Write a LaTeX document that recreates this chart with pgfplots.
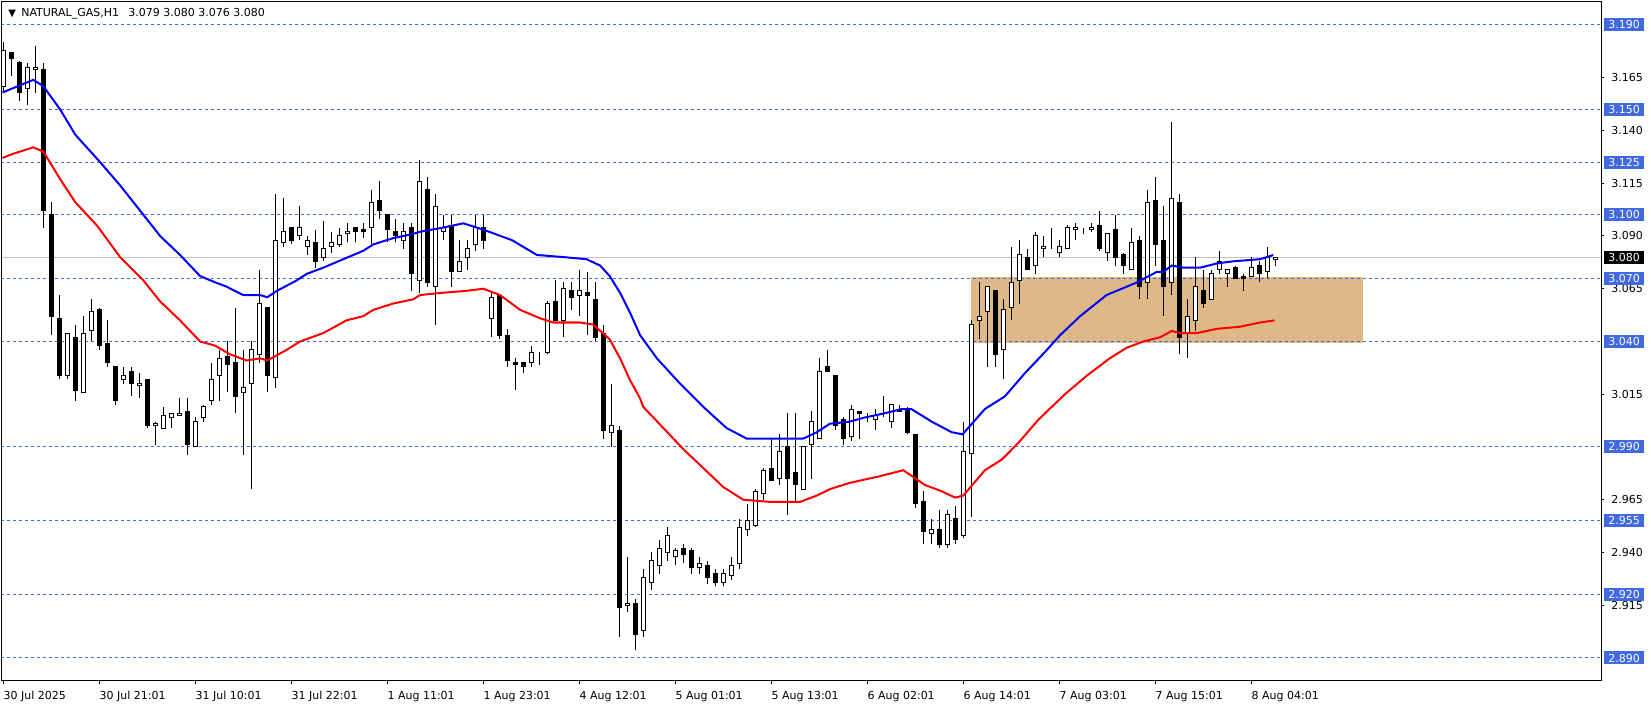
\documentclass[border=0pt]{standalone}
\usepackage{fontspec}
\setmainfont{DejaVu Sans}
\usepackage{pgfplots}
\usepackage{pgfplotstable}
\pgfplotsset{compat=1.18}
\definecolor{lvl}{RGB}{65,105,225}
\definecolor{zone}{RGB}{222,184,135}
\definecolor{bid}{RGB}{192,192,192}

% hourly candles: bar index, open, high, low, close
\pgfplotstableread{
i o h l c
0 3.161 3.182 3.158 3.178
1 3.177 3.177 3.166 3.174
2 3.172 3.173 3.154 3.158
3 3.160 3.172 3.152 3.170
4 3.169 3.180 3.158 3.170
5 3.169 3.172 3.094 3.102
6 3.100 3.106 3.043 3.052
7 3.051 3.062 3.022 3.024
8 3.024 3.044 3.022 3.044
9 3.042 3.048 3.012 3.017
10 3.016 3.052 3.016 3.044
11 3.045 3.060 3.040 3.054
12 3.055 3.056 3.036 3.038
13 3.039 3.050 3.028 3.030
14 3.028 3.028 3.010 3.012
15 3.022 3.028 3.020 3.024
16 3.026 3.028 3.014 3.020
17 3.019 3.025 3.013 3.020
18 3.022 3.022 2.999 3.000
19 3.000 3.002 2.991 3.001
20 2.999 3.009 2.999 3.005
21 3.004 3.006 2.999 3.006
22 3.005 3.013 3.005 3.006
23 3.007 3.013 2.986 2.991
24 2.990 3.004 2.990 3.002
25 3.004 3.010 3.002 3.009
26 3.012 3.030 3.010 3.022
27 3.024 3.036 3.012 3.032
28 3.033 3.040 3.016 3.029
29 3.030 3.056 3.006 3.014
30 3.016 3.036 2.986 3.018
31 3.020 3.040 2.970 3.036
32 3.034 3.074 3.030 3.058
33 3.056 3.056 3.016 3.024
34 3.023 3.110 3.018 3.088
35 3.087 3.108 3.085 3.092
36 3.094 3.094 3.086 3.088
37 3.090 3.104 3.088 3.094
38 3.085 3.090 3.081 3.088
39 3.087 3.093 3.075 3.078
40 3.080 3.097 3.078 3.084
41 3.085 3.092 3.082 3.087
42 3.086 3.094 3.085 3.090
43 3.091 3.096 3.087 3.092
44 3.094 3.094 3.087 3.092
45 3.093 3.096 3.089 3.092
46 3.094 3.112 3.086 3.106
47 3.107 3.116 3.098 3.102
48 3.100 3.100 3.087 3.093
49 3.092 3.098 3.087 3.090
50 3.088 3.096 3.084 3.092
51 3.094 3.096 3.064 3.072
52 3.069 3.126 3.063 3.116
53 3.112 3.118 3.066 3.068
54 3.066 3.110 3.048 3.104
55 3.092 3.100 3.088 3.094
56 3.095 3.100 3.066 3.073
57 3.073 3.088 3.073 3.078
58 3.080 3.088 3.074 3.084
59 3.086 3.100 3.083 3.094
60 3.094 3.100 3.084 3.088
61 3.051 3.063 3.042 3.061
62 3.062 3.062 3.041 3.043
63 3.043 3.046 3.028 3.031
64 3.030 3.032 3.017 3.029
65 3.030 3.030 3.025 3.028
66 3.030 3.038 3.028 3.035
67 3.034 3.035 3.029 3.034
68 3.035 3.059 3.034 3.058
69 3.059 3.069 3.050 3.050
70 3.050 3.068 3.042 3.065
71 3.064 3.068 3.055 3.061
72 3.062 3.074 3.052 3.064
73 3.063 3.073 3.043 3.062
74 3.060 3.068 3.040 3.042
75 3.044 3.048 2.994 2.998
76 2.997 3.020 2.990 3.000
77 2.998 3.000 2.900 2.914
78 2.915 2.938 2.912 2.916
79 2.916 2.918 2.894 2.901
80 2.903 2.932 2.900 2.928
81 2.926 2.940 2.922 2.936
82 2.934 2.946 2.930 2.942
83 2.940 2.952 2.936 2.948
84 2.938 2.942 2.934 2.941
85 2.942 2.944 2.935 2.939
86 2.941 2.942 2.930 2.933
87 2.933 2.938 2.930 2.935
88 2.934 2.936 2.925 2.928
89 2.930 2.932 2.924 2.926
90 2.926 2.932 2.924 2.930
91 2.929 2.938 2.927 2.934
92 2.935 2.956 2.932 2.952
93 2.951 2.963 2.948 2.955
94 2.953 2.970 2.952 2.969
95 2.968 2.980 2.965 2.979
96 2.980 2.994 2.974 2.974
97 2.975 2.996 2.972 2.988
98 2.990 3.006 2.958 2.975
99 2.978 3.006 2.964 2.972
100 2.970 2.990 2.970 2.990
101 2.991 3.007 2.975 3.002
102 2.994 3.032 2.994 3.026
103 3.028 3.036 3.026 3.026
104 3.024 3.024 2.998 3.000
105 3.003 3.004 2.991 2.994
106 2.995 3.010 2.993 3.008
107 3.007 3.007 2.994 3.006
108 3.004 3.006 3.002 3.004
109 3.003 3.008 2.998 3.005
110 3.004 3.014 3.004 3.004
111 3.002 3.010 2.999 3.010
112 3.008 3.010 3.007 3.007
113 3.008 3.009 2.996 2.997
114 2.996 2.996 2.961 2.963
115 2.964 2.969 2.944 2.950
116 2.949 2.956 2.944 2.951
117 2.951 2.960 2.942 2.944
118 2.944 2.960 2.942 2.958
119 2.956 2.962 2.944 2.946
120 2.948 3.002 2.947 2.988
121 2.987 3.050 2.957 3.048
122 3.050 3.068 3.041 3.052
123 3.054 3.066 3.028 3.066
124 3.064 3.064 3.028 3.034
125 3.036 3.060 3.022 3.055
126 3.056 3.085 3.050 3.068
127 3.069 3.088 3.058 3.081
128 3.080 3.084 3.074 3.074
129 3.076 3.092 3.072 3.090
130 3.084 3.090 3.080 3.085
131 3.084 3.094 3.084 3.084
132 3.082 3.088 3.080 3.085
133 3.084 3.095 3.084 3.094
134 3.093 3.096 3.088 3.094
135 3.092 3.094 3.091 3.092
136 3.093 3.096 3.092 3.094
137 3.095 3.102 3.083 3.084
138 3.082 3.091 3.078 3.091
139 3.093 3.100 3.076 3.080
140 3.081 3.082 3.072 3.076
141 3.074 3.094 3.074 3.087
142 3.088 3.090 3.060 3.066
143 3.068 3.112 3.060 3.106
144 3.107 3.118 3.076 3.086
145 3.088 3.104 3.052 3.066
146 3.068 3.144 3.062 3.108
147 3.106 3.110 3.034 3.042
148 3.044 3.060 3.032 3.052
149 3.050 3.080 3.045 3.066
150 3.064 3.074 3.056 3.058
151 3.060 3.074 3.060 3.072
152 3.074 3.083 3.072 3.078
153 3.072 3.074 3.066 3.074
154 3.075 3.076 3.070 3.070
155 3.071 3.072 3.064 3.070
156 3.071 3.080 3.071 3.075
157 3.076 3.078 3.068 3.072
158 3.073 3.085 3.070 3.080
159 3.079 3.080 3.076 3.080
}\candles

\pgfplotsset{
  mt/.style={
    width=1199.25pt, height=509.25pt, scale only axis,
    xmin=-0.1625, xmax=199.71, ymin=2.8791, ymax=3.2009,
    at={(0pt,0pt)}, anchor=south west, clip mode=individual,
  },
}

\begin{document}
\begin{tikzpicture}[font=\fontsize{8.25}{10}\selectfont]
\useasboundingbox (-1.5pt,-18pt) rectangle (1236.75pt,510.75pt);

% background: zone, bid line, level lines, wicks
\begin{axis}[mt, hide axis]
\addplot[fill=zone, draw=none] coordinates {(120.96,3.0705) (169.9,3.0705) (169.9,3.0395) (120.96,3.0395)};
\addplot[bid, line width=0.75pt] coordinates {(-1,3.080) (201,3.080)};
\pgfplotsinvokeforeach{3.190,3.150,3.125,3.100,3.070,3.040,2.990,2.955,2.920,2.890}{
  \addplot[lvl, line width=0.75pt, dash pattern=on 2.25pt off 2.25pt] coordinates {(-1,#1) (201,#1)};
}
\addplot[draw=none, mark=none,
  error bars/.cd, y dir=plus, y explicit, error mark=none,
  error bar style={draw=black, solid, line width=0.75pt}]
  table[x=i, y=l, y error expr={\thisrow{h}-\thisrow{l}}] {\candles};
\end{axis}

% candle bodies
\begin{axis}[mt, hide axis, ybar stacked, bar width=3pt]
\addplot[draw=none, fill=none] table[x=i, y expr={min(\thisrow{o},\thisrow{c})}] {\candles};
\addplot[draw=black, fill=white, line width=0.75pt]
  table[x=i, y expr={max(\thisrow{c}-\thisrow{o},0)}] {\candles};
\addplot[draw=black, fill=black, line width=0.75pt]
  table[x=i, y expr={max(\thisrow{o}-\thisrow{c},0)}] {\candles};
\end{axis}

% moving averages, frame, ticks, labels
\begin{axis}[mt,
  axis line style={line width=0.75pt},
  tick align=outside, major tick length=2.25pt,
  tick style={black, line width=0.75pt},
  xtick pos=left, ytick pos=right, yticklabel pos=right,
  xtick={0,12,...,156},
  xticklabels={30 Jul 2025, 30 Jul 21:01, 31 Jul 10:01, 31 Jul 22:01, 1 Aug 11:01, 1 Aug 23:01, 4 Aug 12:01, 5 Aug 01:01, 5 Aug 13:01, 6 Aug 02:01, 6 Aug 14:01, 7 Aug 03:01, 7 Aug 15:01, 8 Aug 04:01},
  xticklabel style={anchor=north west, inner sep=0pt, yshift=-5.5pt},
  ytick={2.915,2.940,2.965,3.015,3.065,3.090,3.115,3.140,3.165},
  yticklabels={2.915,2.940,2.965,3.015,3.065,3.090,3.115,3.140,3.165},
  yticklabel style={anchor=west, inner sep=0pt, xshift=5.25pt},
  /pgf/number format/assume math mode=true,
]
\addplot[blue, line width=1.5pt] coordinates {
(-0.1,3.158) (3.75,3.164) (5,3.161) (7.1,3.150) (9,3.138) (12.1,3.125) (14.6,3.114) (17.1,3.102) (19.6,3.090) (22.1,3.081) (24.6,3.071) (26.5,3.068) (27.9,3.066) (30,3.062) (32.1,3.062) (33,3.061) (34.2,3.064) (36.7,3.069) (37.9,3.072) (40,3.075) (42.5,3.079) (45,3.083) (46.25,3.086) (48.75,3.089) (51.25,3.091) (52.1,3.092) (55,3.094) (57.5,3.096) (60,3.093) (63.6,3.088) (66.7,3.081) (70,3.080) (72.9,3.079) (74.6,3.076) (75.8,3.071) (77.1,3.063) (78.3,3.054) (79.6,3.043) (81.7,3.032) (84.6,3.020) (87.5,3.009) (90.4,2.999) (92.9,2.994) (95.8,2.994) (100,2.994) (101.7,2.997) (103.3,3.001) (105.8,3.002) (107.7,3.004) (110.2,3.006) (112.3,3.008) (113.5,3.008) (116.05,3.002) (118.55,2.997) (119.9,2.996) (122.7,3.008) (125.2,3.014) (127.7,3.025) (130.2,3.035) (132.1,3.043) (134.6,3.052) (137.9,3.062) (141.7,3.068) (144.2,3.073) (145,3.073) (146.05,3.076) (147.5,3.075) (149.6,3.075) (151.7,3.077) (153.75,3.078) (157.1,3.079) (158.75,3.081)
};
\addplot[red, line width=1.5pt] coordinates {
(-0.1,3.127) (1.25,3.129) (3.75,3.132) (5,3.130) (7.1,3.117) (9,3.106) (11.7,3.095) (14.6,3.080) (17.5,3.069) (19.6,3.059) (22.1,3.050) (24.6,3.040) (26.5,3.038) (28.3,3.034) (30.4,3.031) (32.1,3.032) (33,3.031) (35.4,3.036) (37.1,3.040) (40,3.044) (42.9,3.050) (45,3.052) (46.25,3.055) (48.75,3.058) (51.25,3.060) (52.1,3.062) (54.6,3.063) (57.9,3.064) (60,3.065) (62.1,3.062) (64.6,3.055) (67.1,3.051) (68.75,3.049) (72.1,3.049) (73.75,3.048) (75.8,3.041) (77.1,3.032) (78.3,3.022) (79.6,3.013) (80,3.009) (82.5,2.999) (85,2.989) (87.5,2.980) (90,2.971) (92.5,2.965) (95.8,2.964) (99.6,2.964) (101.7,2.967) (103.3,2.970) (105.8,2.973) (109.4,2.976) (112.5,2.979) (115.2,2.972) (117.3,2.969) (119,2.966) (120,2.967) (122.7,2.979) (124.8,2.984) (126.9,2.992) (129.4,3.003) (132.7,3.015) (135.5,3.024) (138.3,3.032) (140.4,3.037) (142.5,3.040) (144.6,3.042) (146.05,3.045) (147.1,3.044) (149.2,3.044) (151.7,3.046) (154.6,3.047) (157.1,3.049) (158.9,3.050)
};
\pgfplotsinvokeforeach{3.190,3.150,3.125,3.100,3.070,3.040,2.990,2.955,2.920,2.890}{
  \node[anchor=west, fill=lvl, text=white, inner xsep=3.5pt, inner ysep=0pt,
        minimum height=9.75pt, xshift=1.75pt] at (axis cs:199.71,#1) {#1};
}
\node[anchor=west, fill=black, text=white, inner xsep=3.5pt, inner ysep=0pt,
      minimum height=9.75pt, xshift=1.75pt] at (axis cs:199.71,3.080) {3.080};
\node[anchor=base west, inner sep=0pt, xshift=4.5pt, yshift=-11pt] at (rel axis cs:0,1)
  {{\fontsize{7.5}{7.5}\selectfont ▼}\hspace{4pt}NATURAL\_GAS,H1\hspace{7pt}3.079 3.080 3.076 3.080};
\end{axis}
\end{tikzpicture}
\end{document}
